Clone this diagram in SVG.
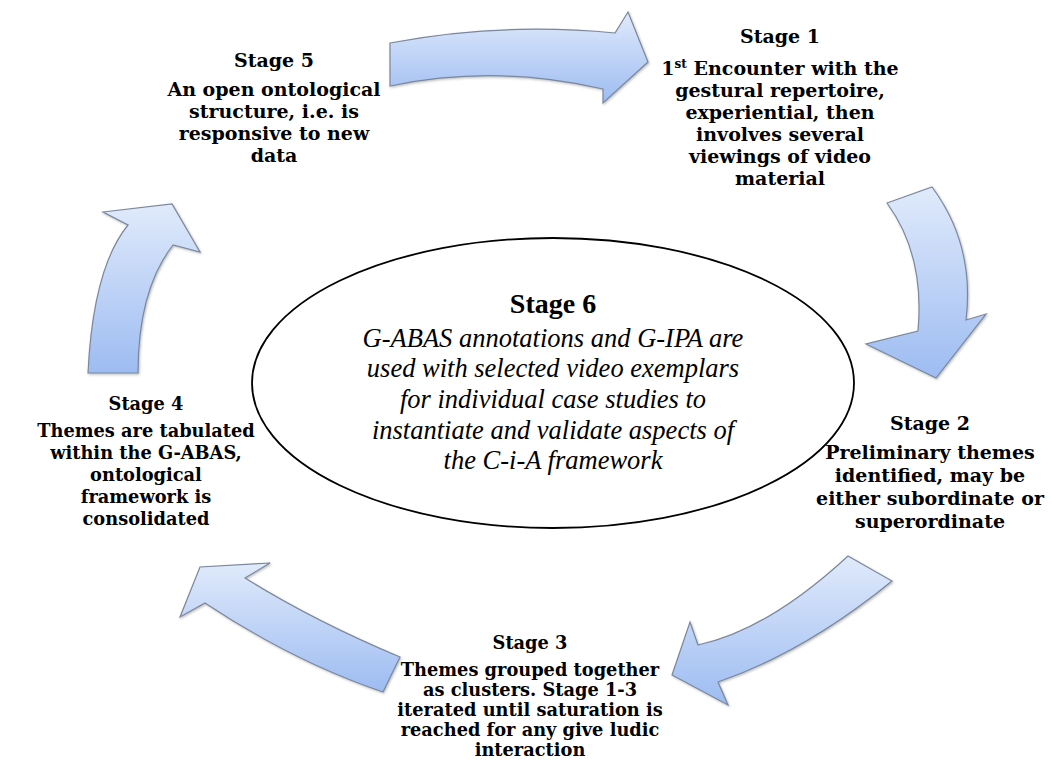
<svg xmlns="http://www.w3.org/2000/svg" width="1052" height="760" viewBox="0 0 1052 760">
  <defs>
    <linearGradient id="arrowFill" x1="0" y1="0" x2="0" y2="1">
      <stop offset="0" stop-color="#e0eafb"/>
      <stop offset="1" stop-color="#9dbcf2"/>
    </linearGradient>
    <filter id="soft" x="-10%" y="-10%" width="120%" height="120%">
      <feDropShadow dx="1" dy="1.2" stdDeviation="0.9" flood-color="#404040" flood-opacity="0.35"/>
    </filter>
  </defs>
  <style>
    .arrow { fill: url(#arrowFill); stroke: #7a879c; stroke-width: 1.2; stroke-linejoin: miter; filter: url(#soft); }
    .lbl { font-family: "DejaVu Serif", "Liberation Serif", serif; font-weight: bold; font-size: 19px; fill: #000; text-anchor: middle; }
    .sm { font-size: 17.8px; }
    .core-head { font-family: "Liberation Serif", "Times New Roman", serif; font-weight: bold; font-size: 28px; fill: #000; text-anchor: middle; }
    .core { font-family: "Liberation Serif", "Times New Roman", serif; font-style: italic; font-size: 26.5px; fill: #000; text-anchor: middle; }
    .hub { fill: #fff; stroke: #000; stroke-width: 1.8; }
  </style>
  <rect width="1052" height="760" fill="#fff"/>

  <!-- curved block arrows linking the stages clockwise -->
  <g id="connectors">
    <!-- Stage 5 to Stage 1 -->
    <path class="arrow" d="M390,43 Q500,22 615,33 L628,12 L648,62 L603,103 L603,89 Q495,64 390,86 Z"/>
    <!-- Stage 1 to Stage 2 -->
    <path class="arrow" d="M887,203 L932,187 Q975,245 966,320 L986,314 L936,378 L866,344 L918,331 Q925,255 887,203 Z"/>
    <!-- Stage 2 to Stage 3 -->
    <path class="arrow" d="M848,556 L892,581 Q805,652 718,682 L728,705 L672,675 L690,622 L698,645 Q768,630 848,556 Z"/>
    <!-- Stage 3 to Stage 4 -->
    <path class="arrow" d="M400,657 L383,692 Q294,662 205,603 L180,617 L200,567 L270,563 L245,578 Q314,621 400,657 Z"/>
    <!-- Stage 4 to Stage 5 -->
    <path class="arrow" d="M88,373 L138,373 Q138,290 173,245 L200,252 L172,204 L103,212 L128,225 Q93,268 88,373 Z"/>
  </g>

  <g id="stage6">
    <ellipse class="hub" cx="553" cy="383" rx="301" ry="145"/>
    <text class="core-head" x="553" y="313">Stage 6</text>
    <text class="core" x="553" y="347">G-ABAS annotations and G-IPA are</text>
    <text class="core" x="553" y="377">used with selected video exemplars</text>
    <text class="core" x="553" y="408">for individual case studies to</text>
    <text class="core" x="553" y="439">instantiate and validate aspects of</text>
    <text class="core" x="553" y="469">the C-i-A framework</text>
  </g>

  <g id="stage5">
    <text class="lbl" x="274" y="67">Stage 5</text>
    <text class="lbl" x="274" y="96">An open ontological</text>
    <text class="lbl" x="274" y="118">structure, i.e. is</text>
    <text class="lbl" x="274" y="140">responsive to new</text>
    <text class="lbl" x="274" y="162">data</text>
  </g>

  <g id="stage1">
    <text class="lbl" x="780" y="43">Stage 1</text>
    <text class="lbl" x="780" y="75">1<tspan font-size="12" dy="-7">st</tspan><tspan dy="7"> Encounter with the</tspan></text>
    <text class="lbl" x="780" y="97">gestural repertoire,</text>
    <text class="lbl" x="780" y="119">experiential, then</text>
    <text class="lbl" x="780" y="141">involves several</text>
    <text class="lbl" x="780" y="163">viewings of video</text>
    <text class="lbl" x="780" y="185">material</text>
  </g>

  <g id="stage2">
    <text class="lbl" x="930" y="430">Stage 2</text>
    <text class="lbl" x="930" y="459">Preliminary themes</text>
    <text class="lbl" x="930" y="482">identified, may be</text>
    <text class="lbl" x="930" y="505">either subordinate or</text>
    <text class="lbl" x="930" y="528">superordinate</text>
  </g>

  <g id="stage3">
    <text class="lbl sm" x="530" y="649">Stage 3</text>
    <text class="lbl sm" x="530" y="676">Themes grouped together</text>
    <text class="lbl sm" x="530" y="696">as clusters. Stage 1-3</text>
    <text class="lbl sm" x="530" y="716">iterated until saturation is</text>
    <text class="lbl sm" x="530" y="736">reached for any give ludic</text>
    <text class="lbl sm" x="530" y="756">interaction</text>
  </g>

  <g id="stage4">
    <text class="lbl sm" x="146" y="410">Stage 4</text>
    <text class="lbl sm" x="146" y="437">Themes are tabulated</text>
    <text class="lbl sm" x="146" y="459">within the G-ABAS,</text>
    <text class="lbl sm" x="146" y="481">ontological</text>
    <text class="lbl sm" x="146" y="503">framework is</text>
    <text class="lbl sm" x="146" y="525">consolidated</text>
  </g>
</svg>
